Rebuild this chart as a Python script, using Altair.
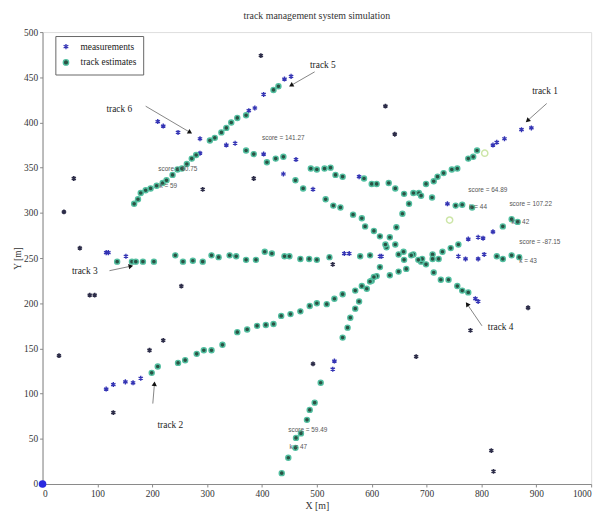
import math
import altair as alt
import pandas as pd

# ---------------- data ----------------
t1_x = [436,448,461,462,471,482,487,496,507,529,532,547,556,561,570,577,591,600,609,615,618,627,633,645,656,668,686,699,713,720,731,746,756,776,785,792,821,828,842,873,891]
t1_y = [12,29,40,51,56,71,82,90,112,127,136,162,173,184,194,202,216,225,230,240,252,262,273,284,299,310,322,332,335,340,344,348,349,360,362,369,375,378,382,392,394]
t1_k = "eeeeeeeee" + "mm" + "eeeeeeeee" + "m" + "eeeeeeeeeeeeeee" + "mmmmm"

t2_x = [116,129,151,165,179,199,210,247,260,281,294,308,328,355,373,391,407,421,435,452,470,487,500,518,532,547,570,582,597,604,633,649,663,690,711,729,744,758,776,794,803,821,839,855,866]
t2_y = [105,110,113,112,117,123,130,134,137,144,148,148,154,168,171,175,176,177,186,188,191,197,200,199,205,210,214,219,224,229,231,235,238,246,254,257,261,265,271,273,272,279,285,293,290]
t2_k = "mmmmm" + "e" * 33 + "mmmm" + "eee"

t3_x = [116,120,136,152,163,170,183,203,242,256,274,292,308,321,341,353,371,389,405,418,441,450,470,486,500,523,550,559,579,597,615,649,659,676,692,711,722,758,771,794,805,828,839,855,869]
t3_y = [256,256,246,252,246,246,246,246,253,246,247,246,253,251,253,252,248,248,257,255,252,252,249,249,248,251,255,255,252,253,252,254,248,254,249,249,249,252,249,249,254,252,249,253,251]
t3_k = "mmem" + "e" * 22 + "mm" + "ee" + "m" + "e" * 6 + "mmmm" + "eeee"

t4_x = [385,409,439,461,475,493,516,530,543,566,582,588,604,615,625,643,658,672,685,699,713,726,740,756,765,776,789,794]
t4_y = [365,356,343,336,327,326,315,308,306,298,294,285,280,274,265,265,257,253,248,243,234,226,226,219,214,212,205,202]
t4_k = "eemeem" + "e" * 20 + "mm"

t5_x = [167,174,179,188,197,208,219,226,237,246,254,263,272,280,287,305,314,326,335,344,355,371,376,387,403,421,430,441,453]
t5_y = [310,315,322,325,327,330,333,336,342,348,349,354,360,364,366,380,383,389,394,400,405,408,413,416,431,436,440,448,451]
t5_k = "e" * 14 + "m" + "e" * 7 + "mmm" + "ee" + "mm"

t6_x = [210,220,247,287,335,351,371,403,425,439,462,489,500,514,525,534,547,577,586,600,609,631,643,659,676,690,710,738,753,765,783]
t6_y = [401,396,389,382,375,377,369,365,360,362,359,349,348,349,350,342,340,340,338,332,332,333,327,321,322,319,317,310,308,309,306]
t6_k = "mmmmmm" + "e" + "m" + "ee" + "m" + "e" * 6 + "m" + "e" * 7 + "ee" + "m" + "eee"

clutter_x = [398,39,57,68,86,95,30,129,195,220,253,292,385,625,642,493,529,681,780,885,818,822]
clutter_y = [474,301,338,261,209,209,142,79,148,159,219,326,338,418,387,133,243,141,170,195,37,14]

origin_x = [0]
origin_y = [0]

tent_x = [742, 806]
tent_y = [292, 366]

label_text = ["track 1", "track 2", "track 3", "track 4", "track 5", "track 6"]
label_x = [916, 233, 77, 835, 511, 140]
label_y = [435, 65, 236, 174, 463, 415]
tail_x = [919, 201, 122, 801, 496, 188]
tail_y = [421, 89, 236, 175, 456, 418]
head_x = [884, 204, 161, 774, 453, 269]
head_y = [402, 111, 241, 199, 441, 389]

ann_text = ["score = 141.27", "score = 60.75", "k = 59", "score = 64.89", "k = 44",
            "score = 107.22", "k = 42", "score = -87.15", "k = 43", "score = 59.49", "k = 47"]
ann_x = [400, 211, 213, 776, 778, 851, 855, 869, 869, 448, 450]
ann_y = [383, 348, 330, 325, 306, 310, 290, 268, 247, 60, 41]

# ---------------- build tables ----------------
W, H = 556, 458
names = {"m": "measurements", "e": "track estimates"}
rows = []
for xs_, ys_, ks_ in [(t1_x, t1_y, t1_k), (t2_x, t2_y, t2_k), (t3_x, t3_y, t3_k),
                      (t4_x, t4_y, t4_k), (t5_x, t5_y, t5_k), (t6_x, t6_y, t6_k)]:
    for a, b, k in zip(xs_, ys_, ks_):
        rows.append({"x": a, "y": b, "kind": names[k], "o": 0 if k == "m" else 1})
tracks = pd.DataFrame(rows).sort_values("o", kind="stable")
clutter = pd.DataFrame({"x": clutter_x, "y": clutter_y})
origin = pd.DataFrame({"x": origin_x, "y": origin_y})
tent = pd.DataFrame({"x": tent_x, "y": tent_y})

angles = []
for tx, ty, hx, hy in zip(tail_x, tail_y, head_x, head_y):
    sx = (hx - tx) * W / 1000.0
    sy = -(hy - ty) * H / 500.0
    angles.append(math.degrees(math.atan2(sx, -sy)) % 360)
arrows = pd.DataFrame({"x": tail_x, "y": tail_y, "x2": head_x, "y2": head_y})
heads = pd.DataFrame({"x": head_x, "y": head_y, "angle": angles})
labels = pd.DataFrame({"x": label_x, "y": label_y, "text": label_text})
anns = pd.DataFrame({"x": ann_x, "y": ann_y, "text": ann_text})

# ---------------- encodings ----------------
SERIF = "Liberation Serif"
xscale = alt.Scale(domain=[0, 1000], nice=False, zero=False)
yscale = alt.Scale(domain=[0, 500], nice=False, zero=False)
xaxis = alt.Axis(title="X [m]", values=list(range(0, 1001, 100)), format="d", grid=False,
                 tickSize=3, labelPadding=2, titlePadding=2, domainColor="#888", tickColor="#888",
                 labelColor="#333", titleColor="#333", labelFont=SERIF, titleFont=SERIF,
                 labelFontSize=9.5, titleFontSize=10, titleFontWeight="normal")
yaxis = alt.Axis(title="Y [m]", values=list(range(0, 501, 50)), format="d", grid=False,
                 tickSize=3, labelPadding=2, titlePadding=1, domainColor="#888", tickColor="#888",
                 labelColor="#333", titleColor="#333", labelFont=SERIF, titleFont=SERIF,
                 labelFontSize=9.5, titleFontSize=9.5, titleFontWeight="normal")


def X(f="x"):
    return alt.X(f, type="quantitative", scale=xscale, axis=xaxis)


def Y(f="y"):
    return alt.Y(f, type="quantitative", scale=yscale, axis=yaxis)


ASTER = "M0,-1L0,1M-0.866,-0.5L0.866,0.5M-0.866,0.5L0.866,-0.5"
dom = ["measurements", "track estimates"]
legend = alt.Legend(title=None, orient="none", legendX=13, legendY=4, padding=6,
                    strokeColor="#666", fillColor="white", labelFont=SERIF, labelFontSize=9.5,
                    labelColor="#222", symbolSize=30, symbolStrokeWidth=1.3, rowPadding=4,
                    labelOffset=10)

clutter_layer = alt.Chart(clutter).mark_point(shape=ASTER, filled=False, size=24,
                                               strokeWidth=1.6, color="#2c2c48", opacity=1).encode(
    x=X(), y=Y())

track_layer = alt.Chart(tracks).mark_point(filled=True, size=26, strokeWidth=1.4, opacity=1).encode(
    x=X(), y=Y(),
    shape=alt.Shape("kind:N", scale=alt.Scale(domain=dom, range=[ASTER, "circle"]), legend=legend),
    fill=alt.Fill("kind:N", scale=alt.Scale(domain=dom, range=["#3434b4", "#2b5244"]), legend=legend),
    stroke=alt.Stroke("kind:N", scale=alt.Scale(domain=dom, range=["#3434b4", "#52bfa0"]), legend=legend),
    order=alt.Order("o:Q"),
)

tent_layer = alt.Chart(tent).mark_point(shape="circle", filled=False, size=40, strokeWidth=1.5,
                                        color="#cde6a8", opacity=1).encode(x=X(), y=Y())

origin_layer = alt.Chart(origin).mark_point(shape="circle", filled=True, size=60,
                                            color="#2a2ae0", opacity=1).encode(x=X(), y=Y())

arrow_layer = alt.Chart(arrows).mark_rule(color="#777", strokeWidth=0.9).encode(
    x=X(), y=Y(), x2="x2:Q", y2="y2:Q")

head_layer = alt.Chart(heads).mark_point(shape="triangle-up", filled=True, size=28,
                                         color="#111", opacity=1).encode(
    x=X(), y=Y(), angle=alt.Angle("angle:Q", scale=None))

label_layer = alt.Chart(labels).mark_text(font=SERIF, fontSize=9.5, color="#222",
                                          align="center", baseline="middle").encode(
    x=X(), y=Y(), text="text:N")

ann_layer = alt.Chart(anns).mark_text(font="Liberation Sans", fontSize=6.5, color="#555",
                                      align="left", baseline="middle").encode(
    x=X(), y=Y(), text="text:N")

chart = alt.layer(
    clutter_layer, track_layer, tent_layer, origin_layer, arrow_layer, head_layer,
    ann_layer, label_layer
).properties(
    width=W, height=H,
    title=alt.TitleParams("track management system simulation", font=SERIF, fontSize=10,
                          fontWeight="normal", color="#333", offset=6, anchor="middle"),
    autosize=alt.AutoSizeParams(type="none"),
    padding={"left": 35, "top": 21, "right": 12, "bottom": 28},
).configure_view(stroke=None).configure(background="white")

chart.save("out.html", embed_options={"renderer": "svg", "actions": False})
